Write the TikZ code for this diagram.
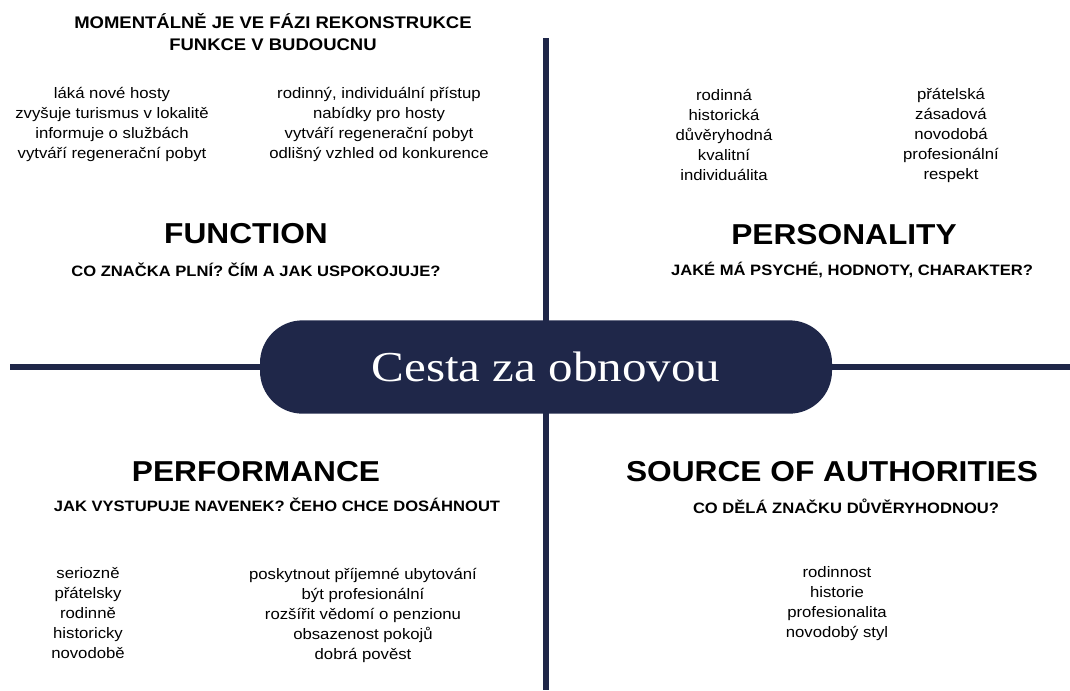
\documentclass[tikz,border=0pt]{standalone}
\usepackage{fontspec}
\setmainfont[FakeStretch=1.1]{Liberation Sans}
\newfontfamily\pillfont[FakeStretch=1.15]{Liberation Serif}
\usetikzlibrary{positioning}

\definecolor{navy}{RGB}{31,39,73}

\begin{document}
\begin{tikzpicture}[x=0.75pt, y=-0.75pt,
    every node/.style={inner sep=0pt, outer sep=0pt},
    heading/.style={font=\bfseries\fontsize{21.6}{26}\selectfont},
    question/.style={font=\bfseries\fontsize{11.3}{16.5}\selectfont, align=center},
    itemlist/.style={font=\fontsize{11.4}{15}\selectfont, align=center},
    axis/.style={draw=navy, line width=3.8pt},
    pill/.style={fill=navy, text=white, rounded corners=32pt, minimum width=429pt, minimum height=70pt, font=\pillfont\fontsize{32}{36}\selectfont}]
    \useasboundingbox (0,0) rectangle (1070,690);

    % axes
    \coordinate (top) at (546,38);
    \coordinate (bottom) at (546,690);
    \coordinate (left) at (10,367);
    \coordinate (right) at (1070,367);
    \draw [axis] (top) -- (bottom);
    \draw [axis] (left) -- (right);

    \node [pill] (core) at (546,367) {Cesta za obnovou};

    % function
    \node [question, font=\bfseries\fontsize{12.6}{16.5}\selectfont] (note) at (273,32) {MOMENTÁLNĚ JE VE FÁZI REKONSTRUKCE\\FUNKCE V BUDOUCNU};
    \node [itemlist] (f1) at (112,124) {láká nové hosty\\zvyšuje turismus v lokalitě\\informuje o službách\\vytváří regenerační pobyt};
    \node [itemlist] (f2) at (379,124) {rodinný, individuální přístup\\nabídky pro hosty\\vytváří regenerační pobyt\\odlišný vzhled od konkurence};
    \node [heading] (function) at (246,234) {FUNCTION};
    \node [question] (functionq) at (256,270) {CO ZNAČKA PLNÍ? ČÍM A JAK USPOKOJUJE?};

    % personality
    \node [itemlist] (p1) at (724,135) {rodinná\\historická\\důvěryhodná\\kvalitní\\individuálita};
    \node [itemlist] (p2) at (951,135) {přátelská\\zásadová\\novodobá\\profesionální\\respekt};
    \node [heading] (personality) at (844,235) {PERSONALITY};
    \node [question] (personalityq) at (852,270) {JAKÉ MÁ PSYCHÉ, HODNOTY, CHARAKTER?};

    % performance
    \node [heading] (performance) at (256,472) {PERFORMANCE};
    \node [question] (performanceq) at (277,505) {JAK VYSTUPUJE NAVENEK? ČEHO CHCE DOSÁHNOUT};
    \node [itemlist] (r1) at (88,613) {seriozně\\přátelsky\\rodinně\\historicky\\novodobě};
    \node [itemlist] (r2) at (363,615) {poskytnout příjemné ubytování\\být profesionální\\rozšířit vědomí o penzionu\\obsazenost pokojů\\dobrá pověst};

    % source of authorities
    \node [heading] (source) at (832,472) {SOURCE OF AUTHORITIES};
    \node [question] (sourceq) at (846,506) {CO DĚLÁ ZNAČKU DŮVĚRYHODNOU?};
    \node [itemlist] (s1) at (837,604) {rodinnost\\historie\\profesionalita\\novodobý styl};
\end{tikzpicture}
\end{document}
